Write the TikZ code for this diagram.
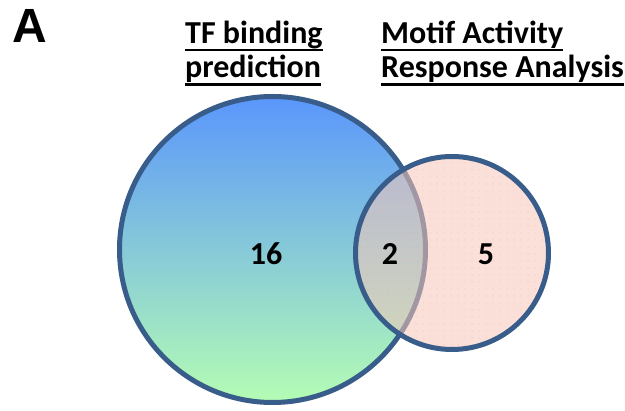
\documentclass[tikz,border=0pt]{standalone}
\usepackage{fontspec}
\setmainfont{Carlito}
\newfontfamily\panelfont{Liberation Sans}
\usetikzlibrary{patterns}

% sparse dot texture for the second set
\pgfdeclarepatternformonly{sparsedots}{\pgfpointorigin}{\pgfpoint{7pt}{7pt}}{\pgfpoint{7pt}{7pt}}{%
  \pgfpathcircle{\pgfpoint{3.5pt}{3.5pt}}{0.7pt}\pgfusepath{fill}}

\definecolor{edgeblue}{RGB}{56,93,138}
\definecolor{topblue}{RGB}{90,150,252}
\definecolor{botgreen}{RGB}{180,253,180}
\definecolor{pinkfill}{RGB}{248,199,185}
\definecolor{dotpink}{RGB}{240,160,150}

\tikzset{
  hdr/.style={font=\fontsize{32}{34}\selectfont\bfseries, inner sep=0pt, anchor=base west},
  uline/.style={line width=2.6pt},
  count/.style={font=\fontsize{32}{34}\selectfont\bfseries, inner sep=0pt},
  tfset/.style={circle, draw=edgeblue, line width=5pt, inner sep=0pt,
    top color=topblue, bottom color=botgreen},
  maraset/.style={circle, draw=edgeblue, line width=5pt, inner sep=0pt,
    preaction={fill=pinkfill, fill opacity=0.55},
    preaction={pattern=sparsedots, pattern color=dotpink, fill opacity=0.45}},
}

\begin{document}
\begin{tikzpicture}[x=1pt, y=-1pt]
  \useasboundingbox (0,0) rectangle (625,411);

  % the two sets
  \node[tfset, minimum size=306pt] (tfcirc) at (272.5,249.5) {};
  \node[maraset, minimum size=193pt] (macirc) at (452,253) {};

  % panel letter
  \node[font=\panelfont\fontsize{48}{48}\selectfont\bfseries, inner sep=0pt, anchor=base west]
    (panel) at (12,43) {A};

  % set titles
  \node[hdr] (tfA) at (185,43.5) {TF binding};
  \node[hdr] (tfB) at (185,78) {prediction};
  \node[hdr] (maA) at (381,43.5) {Motif Activity};
  \node[hdr] (maB) at (381,78) {Response Analysis};
  \foreach \n in {tfA,tfB,maA,maB}
    \draw[uline] ([yshift=-6.5pt]\n.base west) -- ([yshift=-6.5pt]\n.base east);

  % counts
  \node[count] (onlytf) at (266,254) {16};
  \node[count] (both) at (390,254) {2};
  \node[count] (onlyma) at (486,254) {5};
\end{tikzpicture}
\end{document}
